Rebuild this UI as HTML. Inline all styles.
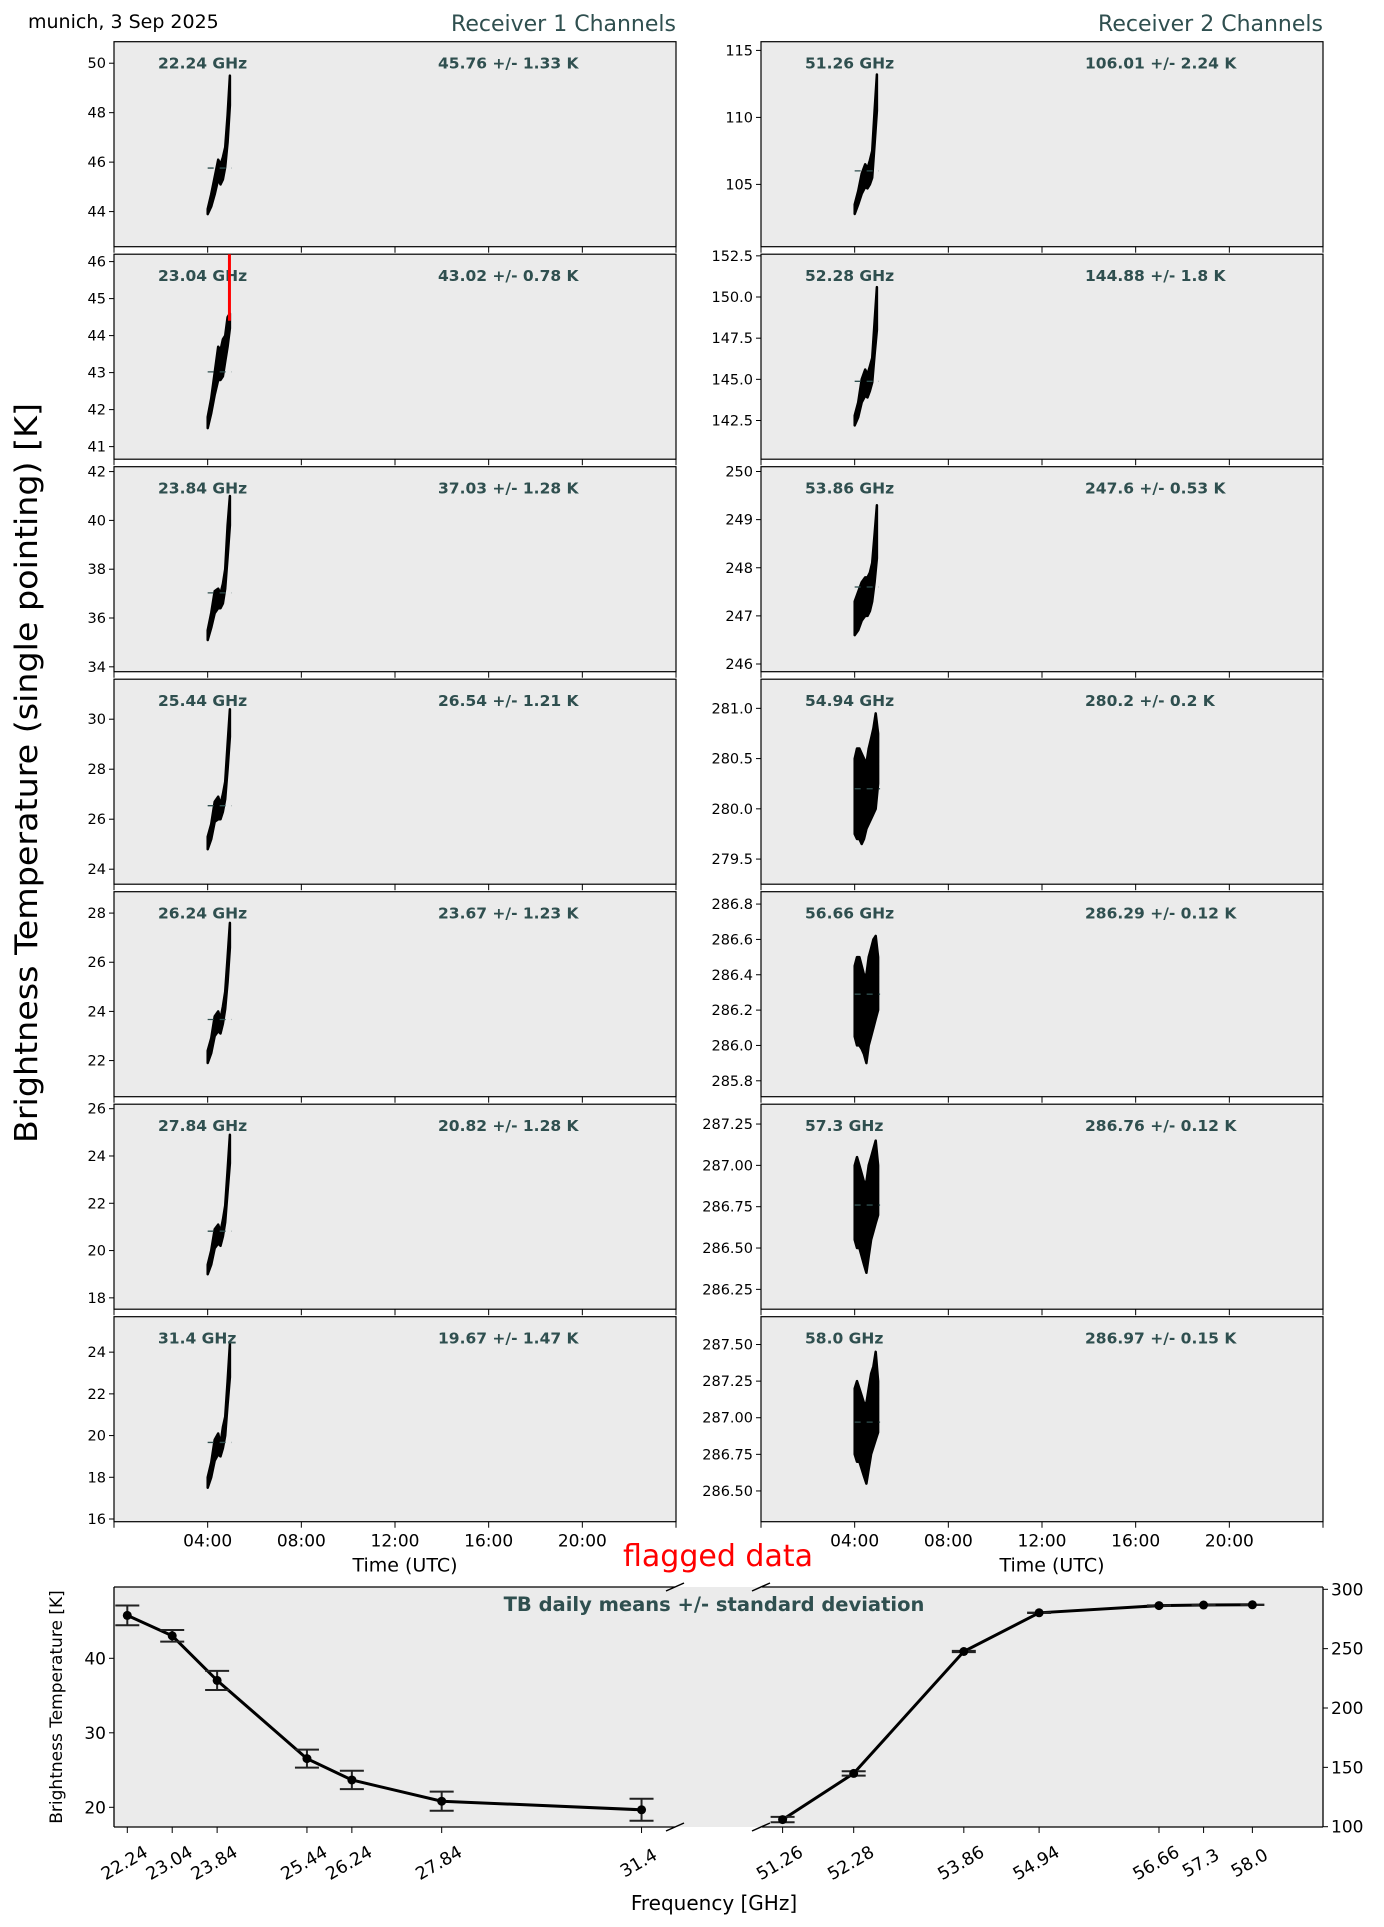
<!DOCTYPE html>
<html><head><meta charset="utf-8"><style>
html,body{margin:0;padding:0;background:#fff;}
svg{display:block;font-family:"DejaVu Sans","Liberation Sans",sans-serif;}
</style></head><body>
<svg id="chart" xmlns="http://www.w3.org/2000/svg" width="1384" height="1927" viewBox="0 0 1384 1927">
<text x="28" y="28" font-size="19" fill="#000">munich, 3 Sep 2025</text>
<text x="676" y="31" font-size="22" fill="#2f4f4f" text-anchor="end">Receiver 1 Channels</text>
<text x="1323" y="31" font-size="22" fill="#2f4f4f" text-anchor="end">Receiver 2 Channels</text>
<text transform="translate(37,773) rotate(-90)" font-size="31" text-anchor="middle" fill="#000" textLength="740" lengthAdjust="spacingAndGlyphs">Brightness Temperature (single pointing) [K]</text>
<g id="panels"></g>
<g id="bottom"></g>
</svg>
<script>
// ---- panel data ----
const freqLabels1 = ["22.24 GHz","23.04 GHz","23.84 GHz","25.44 GHz","26.24 GHz","27.84 GHz","31.4 GHz"];
const freqLabels2 = ["51.26 GHz","52.28 GHz","53.86 GHz","54.94 GHz","56.66 GHz","57.3 GHz","58.0 GHz"];
const means1 = [45.76,43.02,37.03,26.54,23.67,20.82,19.67];
const stds1 = [1.33,0.78,1.28,1.21,1.23,1.28,1.47];
const means2 = [106.01,144.88,247.6,280.2,286.29,286.76,286.97];
const stds2 = [2.24,1.8,0.53,0.2,0.12,0.12,0.15];
const yLim1 = [[42.58,50.87],[40.66,46.2],[33.8,42.2],[23.4,31.6],[20.53,28.87],[17.52,26.19],[15.87,25.7]];
const yTicks1 = [[44,46,48,50],[41,42,43,44,45,46],[34,36,38,40,42],[24,26,28,30],[22,24,26,28],[18,20,22,24,26],[16,18,20,22,24]];
const yLim2 = [[100.35,115.65],[140.15,152.6],[245.84,250.1],[279.25,281.29],[285.71,286.87],[286.13,287.37],[286.29,287.69]];
const yTicks2 = [[105,110,115],[142.5,145.0,147.5,150.0,152.5],[246,247,248,249,250],[279.5,280.0,280.5,281.0],[285.8,286.0,286.2,286.4,286.6,286.8],[286.25,286.50,286.75,287.00,287.25],[286.50,286.75,287.00,287.25,287.50]];
const tickDec2 = [0,1,0,1,1,2,2];
const tA = [4.0,4.15,4.3,4.45,4.55,4.65,4.75,4.85,4.95];
const tB = [4.0,4.1,4.2,4.3,4.4,4.5,4.6,4.7,4.8,4.9,5.0];
const lo1 = [
 [43.9,44.2,44.7,45.3,45.1,45.3,45.8,46.8,48.3],
 [41.5,41.9,42.4,42.8,42.8,42.9,43.3,43.7,44.2],
 [35.1,35.6,36.2,36.4,36.4,36.6,37.2,38.5,39.8],
 [24.8,25.2,25.9,26.0,26.0,26.3,26.8,28.0,29.3],
 [21.9,22.3,23.0,23.2,23.1,23.5,24.1,25.2,26.6],
 [19.0,19.4,20.1,20.3,20.2,20.6,21.2,22.5,23.7],
 [17.5,18.0,18.8,19.1,19.0,19.4,20.0,21.5,22.8]];
const hi1 = [
 [44.1,44.7,45.4,46.1,45.9,46.2,46.6,47.9,49.5],
 [41.8,42.3,43.0,43.7,43.6,43.9,44.0,44.5,44.6],
 [35.5,36.2,37.1,37.2,37.0,37.4,38.0,39.8,41.0],
 [25.3,25.8,26.7,26.9,26.6,27.0,27.5,29.0,30.4],
 [22.4,22.9,23.8,24.0,23.7,24.2,24.8,26.2,27.6],
 [19.4,20.0,20.9,21.1,20.8,21.3,21.9,23.4,24.9],
 [18.0,18.7,19.8,20.1,19.6,20.4,20.9,22.6,24.4]];
const lo2 = [
 [102.8,103.5,104.3,104.8,104.7,105.0,105.5,108.0,110.5],
 [142.2,142.7,143.6,144.0,143.9,144.3,144.8,146.5,148.0],
 [246.6,246.7,246.9,247.0,247.0,247.1,247.3,247.7,248.2],
 [279.75,279.7,279.7,279.65,279.7,279.8,279.85,279.9,279.95,280.0,280.25],
 [286.05,286.0,286.0,285.98,285.95,285.9,286.0,286.05,286.1,286.15,286.2],
 [286.55,286.5,286.5,286.45,286.4,286.35,286.45,286.55,286.6,286.65,286.7],
 [286.75,286.7,286.7,286.65,286.6,286.55,286.65,286.75,286.8,286.85,286.9]];
const hi2 = [
 [103.5,104.5,105.8,106.5,106.2,106.8,107.5,110.5,113.2],
 [142.8,143.6,145.0,145.6,145.3,145.8,146.3,148.5,150.6],
 [247.3,247.5,247.7,247.8,247.8,247.9,248.1,248.7,249.3],
 [280.5,280.6,280.6,280.55,280.5,280.45,280.6,280.7,280.8,280.95,280.75],
 [286.45,286.5,286.5,286.45,286.4,286.4,286.5,286.55,286.6,286.62,286.5],
 [287.0,287.05,287.0,286.95,286.9,286.9,287.0,287.05,287.1,287.15,287.0],
 [287.2,287.25,287.2,287.15,287.1,287.1,287.2,287.3,287.35,287.45,287.25]];
const flagged = [4.93,44.4,46.2]; // time, from, to (panel 23.04 GHz)
const timeTicks = [0,4,8,12,16,20,24];
const timeLabels = ["","04:00","08:00","12:00","16:00","20:00",""];

// ---- bottom chart data ----
const freqs1 = [22.24,23.04,23.84,25.44,26.24,27.84,31.4];
const freqs2 = [51.26,52.28,53.86,54.94,56.66,57.3,58.0];
const freqTickLabels1 = ["22.24","23.04","23.84","25.44","26.24","27.84","31.4"];
const freqTickLabels2 = ["51.26","52.28","53.86","54.94","56.66","57.3","58.0"];
const leftTicks = [20,30,40];
const rightTicks = [100,150,200,250,300];

const NS="http://www.w3.org/2000/svg";
function mk(tag,attrs,parent){const e=document.createElementNS(NS,tag);for(const k in attrs)e.setAttribute(k,attrs[k]);parent.appendChild(e);return e;}
const panels=document.getElementById('panels');
const PX=[114,761], PW=562, PH=205, TOP0=41.7, PITCH=212.5;

function drawPanel(col,i,lab,mean,std,ylim,ticks,dec,ts,lo,hi){
  const x0=PX[col], y0=TOP0+i*PITCH;
  const g=mk('g',{},panels);
  
  
  const sx=t=>x0+t/24*PW;
  const sy=v=>y0+PH-(v-ylim[0])/(ylim[1]-ylim[0])*PH;
  const bg=mk('rect',{x:x0,y:y0,width:PW,height:PH,fill:'#ebebeb',stroke:'#000','stroke-width':1.2},g);
  
  
  ticks.forEach(v=>{
    const y=sy(v);
    mk('line',{x1:x0-5,x2:x0,y1:y,y2:y,stroke:'#000','stroke-width':1},g);
    const t=mk('text',{x:x0-8,y:y+5,'font-size':14.5,'text-anchor':'end',fill:'#000'},g);
    t.textContent=v.toFixed(dec);
    
    
  });
  timeTicks.forEach((h,k)=>{
    const x=sx(h);
    mk('line',{x1:x,x2:x,y1:y0+PH,y2:y0+PH+6,stroke:'#000','stroke-width':1},g);
    if(i===6 && timeLabels[k]){
      const t=mk('text',{x:x,y:y0+PH+25,'font-size':17,'text-anchor':'middle',fill:'#000'},g);
      t.textContent=timeLabels[k];
      
      
    }
  });
  if(i===6){
    const t=mk('text',{x:x0+PW/2+10,y:y0+PH+50,'font-size':19,'text-anchor':'middle',fill:'#000'},g);
    t.textContent='Time (UTC)';
    
    
  }
  let pts=[];
  ts.forEach((t,k)=>pts.push(sx(t).toFixed(1)+','+sy(hi[k]).toFixed(1)));
  for(let k=ts.length-1;k>=0;k--)pts.push(sx(ts[k]).toFixed(1)+','+sy(lo[k]).toFixed(1));
  const poly=mk('polygon',{points:pts.join(' '),fill:'#000',stroke:'#000','stroke-width':2.5,'stroke-linejoin':'round'},g);
  
  
  const ml=mk('line',{x1:sx(ts[0]),x2:sx(ts[ts.length-1])+2,y1:sy(mean),y2:sy(mean),stroke:'#2f4f4f','stroke-width':1.3,'stroke-dasharray':'6,6'},g);
  
  
  const l1=mk('text',{x:x0+44,y:y0+27,'font-size':15.5,'font-weight':'bold',fill:'#2f4f4f'},g);
  l1.textContent=lab;
  
  
  const l2=mk('text',{x:x0+324,y:y0+27,'font-size':15.5,'font-weight':'bold',fill:'#2f4f4f'},g);
  l2.textContent=mean+' +/- '+std+' K';
  
  
  return {sx,sy,g};
}
for(let i=0;i<7;i++){
  const p=drawPanel(0,i,freqLabels1[i],means1[i],stds1[i],yLim1[i],yTicks1[i],0,tA,lo1[i],hi1[i]);
  if(i===1){
    const fl=mk('line',{x1:p.sx(flagged[0]),x2:p.sx(flagged[0]),y1:p.sy(flagged[1]),y2:p.sy(flagged[2]),stroke:'#ff0000','stroke-width':3},p.g);
    
    
  }
}
for(let i=0;i<7;i++){
  const ts = lo2[i].length===tB.length?tB:tA;
  drawPanel(1,i,freqLabels2[i],means2[i],stds2[i],yLim2[i],yTicks2[i],tickDec2[i],ts,lo2[i],hi2[i]);
}

// ---- bottom chart ----
const B=document.getElementById('bottom');
const BT=1587, BB=1827, LX0=114, LX1=676, RX0=761, RX1=1323;
const fxL=f=>127.3+(f-22.24)*56.14;
const fxR=f=>782.6+(f-51.26)*69.7;
const tyL=v=>1807.3-(v-20)*7.45;
const tyR=v=>1826.7-(v-100)*(237.4/200);
const bbg=mk('rect',{x:LX0,y:BT,width:RX1-LX0,height:BB-BT,fill:'#ebebeb'},B);


[[LX0,BT,675,BT],[LX0,BB,675,BB],[762,BT,RX1,BT],[762,BB,RX1,BB],[LX0,BT,LX0,BB],[RX1,BT,RX1,BB]].forEach(s=>mk('line',{x1:s[0],y1:s[1],x2:s[2],y2:s[3],stroke:'#000','stroke-width':1.3},B));
[[666,BT],[752,BT],[666,BB],[752,BB]].forEach(b=>{
  const bm=mk('line',{x1:b[0],y1:b[1]+4,x2:b[0]+18,y2:b[1]-4,stroke:'#000','stroke-width':1.5},B);
  
  
});
const fd=mk('text',{x:718,y:1566,'font-size':30,'text-anchor':'middle',fill:'#ff0000'},B);
fd.textContent='flagged data';


const bt=mk('text',{x:714,y:1611,'font-size':19.5,'font-weight':'bold','text-anchor':'middle',fill:'#2f4f4f'},B);
bt.textContent='TB daily means +/- standard deviation';


leftTicks.forEach(v=>{
  const y=tyL(v);
  mk('line',{x1:LX0-5,x2:LX0,y1:y,y2:y,stroke:'#000'},B);
  const t=mk('text',{x:LX0-8,y:y+6,'font-size':17,'text-anchor':'end'},B);
  t.textContent=v;
  
  
});
rightTicks.forEach(v=>{
  const y=tyR(v);
  mk('line',{x1:RX1,x2:RX1+5,y1:y,y2:y,stroke:'#000'},B);
  const t=mk('text',{x:RX1+8,y:y+6,'font-size':17,'text-anchor':'start'},B);
  t.textContent=v;
  
  
});
const yl=mk('text',{transform:'translate(62,1707) rotate(-90)','font-size':17,'text-anchor':'middle'},B);
yl.textContent='Brightness Temperature [K]';


const xl=mk('text',{x:714,y:1910,'font-size':20,'text-anchor':'middle'},B);
xl.textContent='Frequency [GHz]';


function series(freqs,labels,means,stds,fx,fy,name){
  freqs.forEach((f,k)=>{
    const x=fx(f);
    mk('line',{x1:x,x2:x,y1:BB,y2:BB+6,stroke:'#000'},B);
    const t=mk('text',{transform:`translate(${x},1868) rotate(-30)`,'font-size':17.5,'text-anchor':'middle'},B);
    t.textContent=labels[k];
    
    
  });
  const pl=mk('polyline',{points:freqs.map((f,k)=>fx(f).toFixed(1)+','+fy(means[k]).toFixed(1)).join(' '),fill:'none',stroke:'#000','stroke-width':3},B);
  
  
  freqs.forEach((f,k)=>{
    const x=fx(f), y1=fy(means[k]-stds[k]), y2=fy(means[k]+stds[k]);
    const eb=mk('path',{d:`M${x},${y1}V${y2}M${x-12},${y1}H${x+12}M${x-12},${y2}H${x+12}`,stroke:'#222','stroke-width':2,fill:'none'},B);
    
    
    const c=mk('circle',{cx:x,cy:fy(means[k]),r:4.5,fill:'#000'},B);
    
    
  });
}
series(freqs1,freqTickLabels1,means1,stds1,fxL,tyL,'receiver1');
series(freqs2,freqTickLabels2,means2,stds2,fxR,tyR,'receiver2');
</script>
</body></html>
